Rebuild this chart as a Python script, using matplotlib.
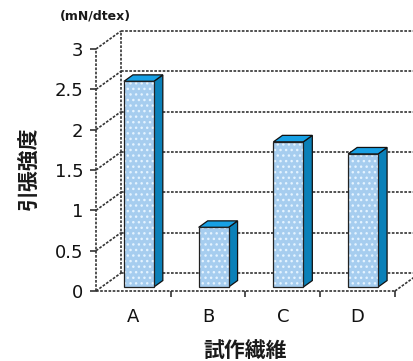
import matplotlib
matplotlib.use("Agg")
import matplotlib.pyplot as plt
import numpy as np

categories = ["A", "B", "C", "D"]
values = [2.55, 0.74, 1.80, 1.65]
yticks = [0, 0.5, 1, 1.5, 2, 2.5, 3]
ytick_labels = ["0", "0.5", "1", "1.5", "2", "2.5", "3"]
unit_label = "(mN/dtex)"
x_title = "試作繊維"
y_title = "引張強度"

W, H = 414, 361
fig = plt.figure(figsize=(W / 100, H / 100), dpi=100)
fig.patch.set_facecolor("white")

# front plane in pixels
fl, fr, fb, ft = 96, 395, 291, 49
ax = fig.add_axes([fl / W, (H - fb) / H, (fr - fl) / W, (fb - ft) / H])
ax.set_xlim(0, 4)
ax.set_ylim(0, 3)
for s in ax.spines.values():
    s.set_visible(False)
ax.patch.set_alpha(0)

DX = 25 / (fr - fl) * 4
DY = 18 / (fb - ft) * 3

def P(x, v, z):
    return x + z * DX, v + z * DY

lc = "#333333"
ls = (0, (1.6, 0.9))
lw = 1.2

def line(p0, p1):
    ax.plot([p0[0], p1[0]], [p0[1], p1[1]], color=lc, ls=ls, lw=lw,
            clip_on=False, zorder=1)

# back wall gridlines and side wall lines
for v in yticks:
    line(P(0, v, 1), P(4.2, v, 1))
    line(P(0, v, 0), P(0, v, 1))
line(P(0, 0, 1), P(0, 3, 1))
line(P(0, 0, 0), P(0, 3, 0))
line(P(0, 0, 0), P(4, 0, 0))
line(P(4, 0, 0), P(4, 0, 1))

# bars
w = 0.40
z0, z1 = 0.22, 0.58
front_c = "#a6cdef"
top_c = "#17a0e4"
side_c = "#0a80b8"
xc = np.arange(len(categories)) + 0.5
for xi, val in zip(xc, values):
    x0, x1 = xi - w / 2, xi + w / 2
    side = [P(x1, 0, z0), P(x1, 0, z1), P(x1, val, z1), P(x1, val, z0)]
    top = [P(x0, val, z0), P(x1, val, z0), P(x1, val, z1), P(x0, val, z1)]
    for poly, c in ((side, side_c), (top, top_c)):
        xs, ys = zip(*poly)
        ax.fill(xs, ys, facecolor=c, edgecolor="#111111", lw=0.9, zorder=3,
                clip_on=False)
ax.bar(xc + z0 * DX, values, bottom=z0 * DY, width=w, color=front_c,
       edgecolor="#e4f3ff", hatch="...", lw=0, zorder=3, clip_on=False)
ax.bar(xc + z0 * DX, values, bottom=z0 * DY, width=w, fill=False,
       edgecolor="#222222", lw=0.9, zorder=4, clip_on=False)

# ticks
ax.set_yticks(yticks)
ax.set_yticklabels(ytick_labels)
ax.set_xticks(xc)
ax.set_xticklabels(categories)
ax.set_xticks([1, 2, 3, 4], minor=True)
ax.tick_params(axis="y", which="major", direction="out", length=4, width=1.2,
               color=lc, pad=5, labelsize=13, labelcolor="#111111")
ax.tick_params(axis="x", which="major", length=0, pad=12, labelsize=13,
               labelcolor="#111111")
ax.tick_params(axis="x", which="minor", direction="out", length=4, width=1.2,
               color=lc)

cjk = ["Noto Sans CJK JP", "DejaVu Sans"]
fig.text(245 / W, 1 - 350 / H, x_title, family=cjk, fontsize=15,
         fontweight="bold", ha="center", va="center", color="#1a1a1a")
fig.text(28 / W, 1 - 168 / H, y_title, family=cjk, fontsize=15,
         fontweight="bold", ha="center", va="center", rotation=90,
         color="#1a1a1a")
fig.text(95 / W, 1 - 16 / H, unit_label, fontsize=9, fontweight="bold",
         ha="center", va="center", color="#1a1a1a")

fig.savefig("out.png", dpi=100, facecolor="white")
